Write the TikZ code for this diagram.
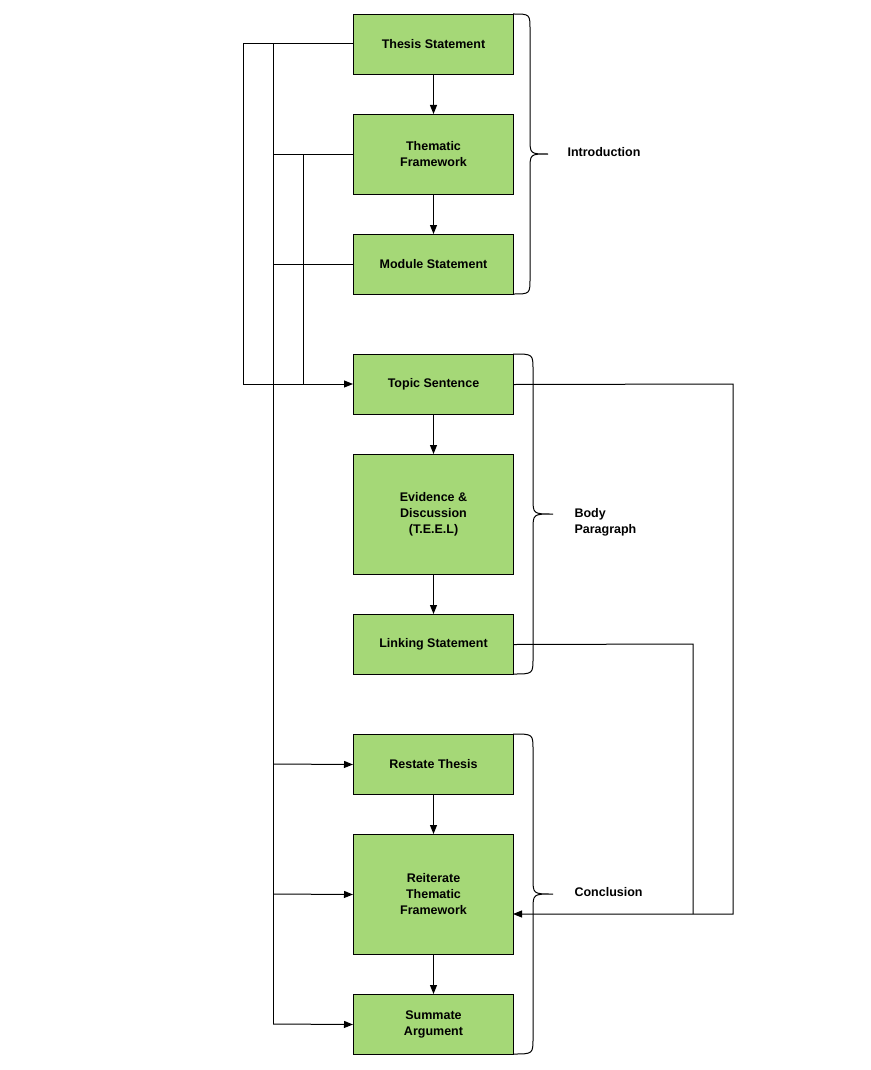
\documentclass[tikz,border=0pt]{standalone}
\usepackage{fontspec}
\setmainfont{Liberation Sans}
\usetikzlibrary{arrows.meta}
\begin{document}
\begin{tikzpicture}[x=1pt,y=-1pt,
  box/.style={draw,fill=boxgreen,line width=1pt,minimum width=160pt,inner sep=1pt,align=center,font=\fontsize{12.5}{16}\selectfont\bfseries,anchor=north west},
  lbl/.style={font=\fontsize{12.5}{16}\selectfont\bfseries,anchor=west,align=left},
  ln/.style={line width=1pt},
  ar/.style={line width=1pt,-{Triangle[length=9pt,width=7pt]}}]
\definecolor{boxgreen}{HTML}{A5D877}
\useasboundingbox (0,0) rectangle (870,1070);
\node[box,minimum height=60pt] (ts) at (353,14) {Thesis Statement};
\node[box,minimum height=80pt] (tf) at (353,114) {Thematic\\Framework};
\node[box,minimum height=60pt] (ms) at (353,234) {Module Statement};
\node[box,minimum height=60pt] (top) at (353,354) {Topic Sentence};
\node[box,minimum height=120pt] (ev) at (353,454) {Evidence \&\\Discussion\\(T.E.E.L)};
\node[box,minimum height=60pt] (lk) at (353,614) {Linking Statement};
\node[box,minimum height=60pt] (rt) at (353,734) {Restate Thesis};
\node[box,minimum height=120pt] (rf) at (353,834) {Reiterate\\Thematic\\Framework};
\node[box,minimum height=60pt] (sa) at (353,994) {Summate\\Argument};
\draw[ar] (ts) -- (tf); \draw[ar] (tf) -- (ms);
\draw[ar] (top) -- (ev); \draw[ar] (ev) -- (lk);
\draw[ar] (rt) -- (rf); \draw[ar] (rf) -- (sa);
% braces
\draw[ln] (513,14) .. controls (530,14) .. (530,30) -- (530,138) .. controls (530,154) .. (548,154)
  .. controls (530,154) .. (530,170) -- (530,278) .. controls (530,294) .. (513,294);
\node[lbl] (intro) at (564,152) {Introduction};
\draw[ln] (513,354) .. controls (533,354) .. (533,370) -- (533,498) .. controls (533,514) .. (553,514)
  .. controls (533,514) .. (533,530) -- (533,658) .. controls (533,674) .. (513,674);
\node[lbl] (body) at (571,522) {Body\\Paragraph};
\draw[ln] (513,734) .. controls (533,734) .. (533,750) -- (533,878) .. controls (533,894) .. (553,894)
  .. controls (533,894) .. (533,910) -- (533,1038) .. controls (533,1054) .. (513,1054);
\node[lbl] (conc) at (571,892) {Conclusion};
% left connectors
\coordinate (t44) at (353,44);
\coordinate (top384) at (353,384);
\draw[ar] (t44) -- (243,44) -- (243,384) -- (top384);
\draw[ln] (273,44) -- (273,1024);
\draw[ln] (353,154) -- (273,154);
\draw[ln] (303,154) -- (303,384);
\draw[ln] (353,264) -- (273,264);
\draw[ar] (273,764) -- (rt.west);
\draw[ar] (273,894) -- (rf.west);
\draw[ar] (273,1024) -- (sa.west);
% right connectors
\coordinate (rf914) at (513,914);
\draw[ar] (top.east) -- (733,384) -- (733,914) -- (rf914);
\draw[ln] (lk.east) -- (693,644) -- (693,914);
\end{tikzpicture}
\end{document}
